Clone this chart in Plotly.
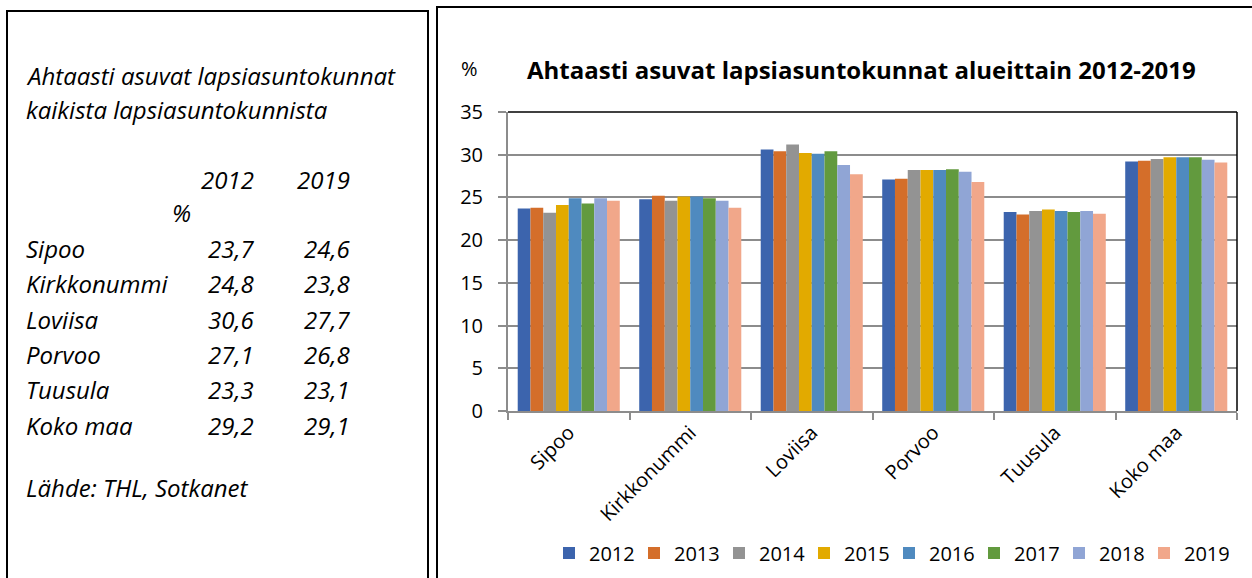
import plotly.graph_objects as go

# ---------------- data ----------------
categories = ["Sipoo", "Kirkkonummi", "Loviisa", "Porvoo", "Tuusula", "Koko maa"]
years = ["2012", "2013", "2014", "2015", "2016", "2017", "2018", "2019"]
v2012 = [23.7, 24.8, 30.6, 27.1, 23.3, 29.2]
v2013 = [23.8, 25.2, 30.4, 27.2, 23.0, 29.3]
v2014 = [23.2, 24.6, 31.2, 28.2, 23.4, 29.5]
v2015 = [24.1, 25.1, 30.2, 28.2, 23.6, 29.7]
v2016 = [24.9, 25.1, 30.1, 28.2, 23.4, 29.7]
v2017 = [24.3, 24.9, 30.4, 28.3, 23.3, 29.7]
v2018 = [24.9, 24.6, 28.8, 28.0, 23.4, 29.4]
v2019 = [24.6, 23.8, 27.7, 26.8, 23.1, 29.1]
series = [v2012, v2013, v2014, v2015, v2016, v2017, v2018, v2019]
colors = ["#3C64AD", "#D46E2A", "#939393", "#E2AA00", "#4F8ABF",
          "#629A3E", "#90A5D5", "#F1A78A"]

chart_title = "Ahtaasti asuvat lapsiasuntokunnat alueittain 2012-2019"
side_title = ["Ahtaasti asuvat lapsiasuntokunnat", "kaikista lapsiasuntokunnista"]
source_text = "Lähde: THL, Sotkanet"

# ---------------- geometry helpers ----------------
W, H = 1252, 578
L, R, T, B = 508, 1237, 112, 411


def px(x):
    return (x - L) / (R - L)


def py(y):
    return (B - y) / (B - T)


FONT = "Open Sans"
FS = 20

fig = go.Figure()
for name, vals, col in zip(years, series, colors):
    fig.add_trace(go.Bar(
        x=categories, y=vals, name=name,
        marker=dict(color=col, line=dict(width=0)),
    ))

fig.update_layout(
    width=W, height=H,
    margin=dict(l=L, r=W - R, t=T, b=H - B, pad=0, autoexpand=False),
    paper_bgcolor="white", plot_bgcolor="white",
    barmode="group", bargap=0.16, bargroupgap=0,
    font=dict(family=FONT, size=FS, color="black"),
    showlegend=True,
    legend=dict(orientation="h", x=px(549), xanchor="left",
                y=py(553), yanchor="middle", font=dict(size=FS),
                itemwidth=30, entrywidth=40, entrywidthmode="pixels",
                traceorder="normal", bgcolor="rgba(0,0,0,0)"),
)

fig.update_yaxes(
    range=[0, 35], dtick=5, tick0=0,
    showgrid=True, gridcolor="#8C8C8C", gridwidth=1.5,
    showline=True, linecolor="#8C8C8C", linewidth=2,
    ticks="outside", ticklen=8, tickcolor="#8C8C8C", tickwidth=1.5,
    ticklabelstandoff=11,
    zeroline=False, fixedrange=True,
)
fig.update_xaxes(
    range=[-0.5, len(categories) - 0.5],
    showgrid=False, showline=True, linecolor="#8C8C8C", linewidth=2,
    ticks="outside", ticklen=7, tickcolor="#8C8C8C", tickwidth=1.5,
    tickson="boundaries", tickangle=-45,
    fixedrange=True,
)

shapes = [
    # left text panel
    dict(type="rect", xref="paper", yref="paper",
         x0=px(7), x1=px(428), y0=py(11), y1=py(600),
         line=dict(color="black", width=2), fillcolor="rgba(0,0,0,0)"),
    # right chart panel
    dict(type="rect", xref="paper", yref="paper",
         x0=px(437), x1=px(1270), y0=py(7), y1=py(600),
         line=dict(color="black", width=2), fillcolor="rgba(0,0,0,0)"),
    # plot-area border top & right
    dict(type="line", xref="paper", yref="paper", x0=0, x1=1, y0=1, y1=1,
         line=dict(color="black", width=1.5)),
    dict(type="line", xref="paper", yref="paper", x0=1, x1=1, y0=0, y1=1,
         line=dict(color="black", width=1.5)),
]

ann = []


def A(text, x, y, xanchor="left", size=FS, family=FONT):
    ann.append(dict(text=text, x=px(x), y=py(y), xref="paper", yref="paper",
                    xanchor=xanchor, yanchor="middle", showarrow=False,
                    font=dict(size=size, family=family, color="black")))


A("<b>" + chart_title + "</b>", 861, 69, "center", size=24)
A("%", 469, 68, "center", size=FS)


def it(t):
    return "<i>" + t + "</i>"


TS = 24
LX = 24
for txt, yy in zip(side_title, [75, 109]):
    A(it(txt), LX, yy, size=TS)
A(it("2012"), 256, 179, "right", size=TS)
A(it("2019"), 352, 179, "right", size=TS)
A(it("%"), 193, 212, "right", size=TS)
row_y = [248, 283, 319, 354, 389, 425]
for cat, a, b, yy in zip(categories, v2012, v2019, row_y):
    A(it(cat), LX, yy, size=TS)
    A(it(f"{a:.1f}".replace(".", ",")), 256, yy, "right", size=TS)
    A(it(f"{b:.1f}".replace(".", ",")), 352, yy, "right", size=TS)
A(it(source_text), LX, 487, size=TS)

fig.update_layout(shapes=shapes, annotations=ann)

fig.write_html(
    "out.html",
    config={"displayModeBar": False},
    post_script="document.body.style.margin='0';document.body.style.padding='0';",
)
